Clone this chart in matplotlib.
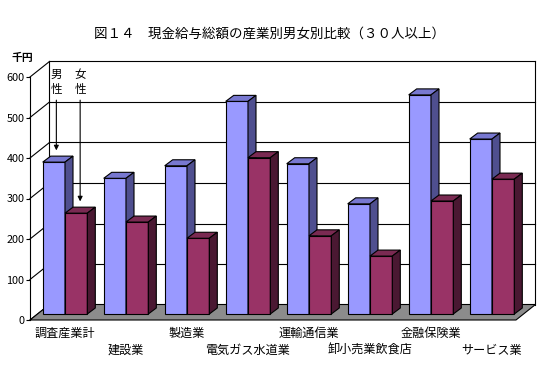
import numpy as np
import matplotlib
matplotlib.use("Agg")
import matplotlib.pyplot as plt
from matplotlib.patches import Polygon

plt.rcParams['font.family'] = ['Noto Sans CJK JP', 'DejaVu Sans']

# --- data (千円) ---
industries = ['調査産業計', '建設業', '製造業', '電気ガス水道業',
              '運輸通信業', '卸小売業飲食店', '金融保険業', 'サービス業']
male = [375, 335, 366, 525, 371, 272, 541, 432]
female = [249, 227, 187, 386, 193, 143, 279, 333]
yticks = [0, 100, 200, 300, 400, 500, 600]
title = '図１４　現金給与総額の産業別男女別比較（３０人以上）'

# --- geometry (pixels) ---
W, H = 550, 376
X0_PX, SX = 65.0, 61.0      # pixel of category 0, px per category
Y0_PX, SY = 314.0, 0.405    # pixel of value 0 on bar front, px per unit
XLIM = (-0.75, 7.75)
YLIM = (-40, 660)
XL, XR = -0.451, 7.516      # floor left/right (bar-front plane)
BAR_W = 22.3 / SX


def off(dx, dy):
    """pixel offset (right, up) -> data offset"""
    return dx / SX, dy / SY


def rect_px(left, top, right, bottom):
    return [left / W, 1 - bottom / H, (right - left) / W, (bottom - top) / H]


fig = plt.figure(figsize=(W / 100, H / 100), dpi=100)
fig.patch.set_facecolor('white')

ax_l = X0_PX + SX * XLIM[0]
ax_r = X0_PX + SX * XLIM[1]
ax_b = Y0_PX - SY * YLIM[0]
ax_t = Y0_PX - SY * YLIM[1]
ax = fig.add_axes(rect_px(ax_l, ax_t, ax_r, ax_b))
ax.set_xlim(*XLIM)
ax.set_ylim(*YLIM)
ax.axis('off')

fx, fy = off(-7.5, -6)    # front plane
bx, by = off(12, 9.5)     # back wall
dx, dy = off(8, 6)        # bar depth
lw = 0.8

# back wall gridlines + frame
for v in yticks[1:]:
    ax.plot([XL + bx, XR + bx], [v + by, v + by], color='black', lw=lw, zorder=1)
ax.plot([XL + bx, XL + bx], [by, 600 + by], color='black', lw=lw, zorder=1)
ax.plot([XR + bx, XR + bx], [by, 600 + by], color='black', lw=lw, zorder=1)
# left wall diagonals
for v in yticks:
    ax.plot([XL + fx, XL + bx], [v + fy, v + by], color='black', lw=lw, zorder=1)

# floor
floor = Polygon([(XL + fx, fy), (XR + fx, fy), (XR + bx, by), (XL + bx, by)],
                closed=True, facecolor='#8c8c8c', edgecolor='black', lw=lw, zorder=2)
ax.add_patch(floor)

# bars
z = 3
x = np.arange(len(industries))
for i in x:
    for x0, v, cols in [(i - BAR_W, male[i], ('#9999ff', '#7878d0', '#4f4f8f')),
                        (i, female[i], ('#993366', '#7a2a52', '#4a1832'))]:
        ax.bar(x0, v, width=BAR_W, align='edge', color=cols[0],
               edgecolor='black', lw=lw, zorder=z)
        top = Polygon([(x0, v), (x0 + dx, v + dy), (x0 + BAR_W + dx, v + dy),
                       (x0 + BAR_W, v)], closed=True, facecolor=cols[1],
                      edgecolor='black', lw=lw, zorder=z)
        side = Polygon([(x0 + BAR_W, 0), (x0 + BAR_W, v), (x0 + BAR_W + dx, v + dy),
                        (x0 + BAR_W + dx, dy)], closed=True, facecolor=cols[2],
                       edgecolor='black', lw=lw, zorder=z)
        ax.add_patch(top)
        ax.add_patch(side)
        z += 1

# category labels, staggered
for i, name in enumerate(industries):
    yl = -47 if i % 2 == 0 else -89
    ax.text(i, yl, name, ha='center', va='center', fontsize=8.7, clip_on=False)

# 男性 / 女性 arrows
ax_m = -BAR_W / 2 + off(2.5, 0)[0]
ax_f = BAR_W / 2 + off(4, 0)[0]
for xa, v, lab in [(ax_m, male[0], '男\n性'), (ax_f, female[0], '女\n性')]:
    ax.annotate('', xy=(xa, v + 29), xytext=(xa, 528),
                arrowprops=dict(arrowstyle='-|>', color='black', lw=lw,
                                mutation_scale=7, shrinkA=0, shrinkB=0),
                zorder=50)
    ax.text(xa, 574, lab, ha='center', va='center', fontsize=8.3,
            linespacing=1.2, zorder=50)

# front value axis
axf = fig.add_axes(rect_px(ax_l - 7.5, ax_t + 6, ax_r - 7.5, ax_b + 6))
axf.set_xlim(*XLIM)
axf.set_ylim(*YLIM)
axf.patch.set_visible(False)
for s in ['top', 'right', 'bottom']:
    axf.spines[s].set_visible(False)
axf.spines['left'].set_position(('data', XL))
axf.spines['left'].set_bounds(0, 600)
axf.spines['left'].set_linewidth(lw)
axf.set_xticks([])
axf.set_yticks(yticks)
axf.tick_params(axis='y', length=3, width=lw, pad=1, labelsize=7.8)

fig.text(22 / W, 1 - 58 / H, '千円', ha='center', va='center',
         fontsize=7.8, fontweight='bold')
fig.text(270 / W, 1 - 34 / H, title, ha='center', va='center', fontsize=9.7)

fig.savefig('out.png', dpi=100, facecolor='white')
